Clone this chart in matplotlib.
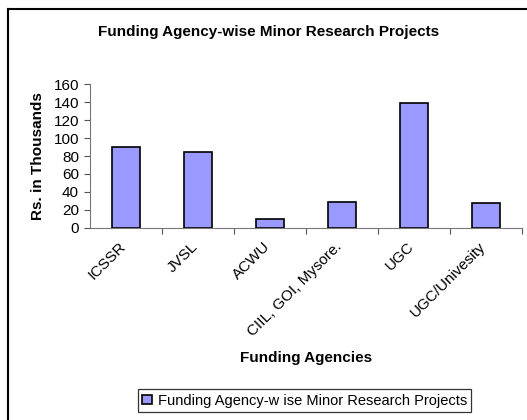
import matplotlib
matplotlib.use("Agg")
import matplotlib.pyplot as plt
import matplotlib.transforms as mtransforms
from matplotlib.lines import Line2D

plt.rcParams['font.family'] = ['Liberation Sans', 'DejaVu Sans']

agencies = ['ICSSR', 'JVSL', 'ACWU', 'CIIL, GOI, Mysore.', 'UGC', 'UGC/Univesity']
amounts = [90, 85, 10, 29, 139, 27.5]
series_name = 'Funding Agency-w ise Minor Research Projects'

fig = plt.figure(figsize=(5.27, 4.2), dpi=100)
# chart area border: only the left and top edges are inside the picture
fig.lines.append(Line2D([7.5 / 527, 7.5 / 527], [0, 1 - 9 / 420], transform=fig.transFigure,
                        color='black', linewidth=1.5))
fig.lines.append(Line2D([7.5 / 527, 1], [1 - 9 / 420, 1 - 9 / 420], transform=fig.transFigure,
                        color='black', linewidth=1.5))

ax = fig.add_axes([90 / 527, 1 - 228 / 420, 432 / 527, 144 / 420])
x = range(len(agencies))
bars = ax.bar(x, amounts, width=0.4, color='#9999ff', edgecolor='black',
              linewidth=1.2, label=series_name)

ax.set_xlim(-0.5, len(agencies) - 0.5)
ax.set_ylim(0, 160)
ax.set_yticks(range(0, 161, 20))
ax.set_xticks([i + 0.5 for i in range(len(agencies))], minor=False)
ax.set_xticklabels([])
ax.set_xticks(list(x), minor=True)
ax.set_xticklabels(agencies, minor=True, rotation=45, ha='right',
                   rotation_mode='anchor', fontsize=11)
ax.tick_params(axis='x', which='minor', length=0, pad=8)
ax.tick_params(axis='x', which='major', length=4, direction='out', color='#555555')
ax.tick_params(axis='y', length=4, labelsize=11, color='#555555', pad=4)

# nudge the slanted labels a little to the left, as in the original
shift = mtransforms.ScaledTranslation(-7 / 100, 0, fig.dpi_scale_trans)
for lbl in ax.get_xticklabels(minor=True):
    lbl.set_transform(lbl.get_transform() + shift)

for side in ['top', 'right']:
    ax.spines[side].set_visible(False)
ax.spines['left'].set_color('#777777')
ax.spines['bottom'].set_color('#777777')

ax.set_ylabel('Rs. in Thousands', fontsize=11, fontweight='bold', labelpad=6)
fig.text(269 / 527, 1 - 32 / 420, 'Funding Agency-wise Minor Research Projects',
         ha='center', va='center', fontsize=11, fontweight='bold')
fig.text(306 / 527, 1 - 358 / 420, 'Funding Agencies', ha='center', va='center',
         fontsize=11, fontweight='bold')

leg = fig.legend(handles=[bars], labels=[series_name], loc='center',
                 bbox_to_anchor=(304.5 / 527, 1 - 400.5 / 420), fontsize=10.5,
                 frameon=True, fancybox=False, edgecolor='black',
                 handlelength=0.65, handleheight=0.65, handletextpad=0.4,
                 borderpad=0.3, borderaxespad=0)
leg.get_frame().set_linewidth(0.9)

fig.savefig('out.png', dpi=100)
